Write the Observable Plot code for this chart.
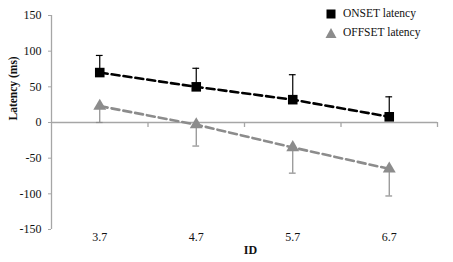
<!DOCTYPE html>
<html>
<head>
<meta charset="utf-8">
<script src="https://cdn.jsdelivr.net/npm/d3@7"></script>
<script src="https://cdn.jsdelivr.net/npm/@observablehq/plot@0.6"></script>
<style>
  html, body { margin: 0; padding: 0; background: #fff; }
  #wrap { position: relative; width: 453px; height: 262px; font-family: "Liberation Serif", "Times New Roman", serif; }
  #legend { position: absolute; left: 325px; top: 4px; font-size: 11.5px; color: #111; line-height: 19px; }
  #legend .row { display: flex; align-items: center; }
  #legend svg { margin-right: 6px; }
</style>
</head>
<body>
<div id="wrap">
  <div id="chart"></div>
  <div id="legend">
    <div class="row"><svg width="12" height="12"><rect x="1.5" y="1.5" width="9" height="9" fill="#000"/></svg>ONSET latency</div>
    <div class="row"><svg width="12" height="12"><path d="M6,1 L11.5,11 L0.5,11 Z" fill="#8c8c8c"/></svg>OFFSET latency</div>
  </div>
</div>
<script>
const ids = [3.7, 4.7, 5.7, 6.7];
const onset = [70, 50, 32, 8];
const onsetErr = [24, 26, 35, 28];
const offset = [23, -3, -35, -65];
const offsetErr = [23, 30, 36, 38];
const yTicks = [-150, -100, -50, 0, 50, 100, 150];

const onData = ids.map((id, i) => ({id, v: onset[i], e: onsetErr[i]}));
const offData = ids.map((id, i) => ({id, v: offset[i], e: offsetErr[i]}));
const xDomain = [ids[0] - 0.5, ids[ids.length - 1] + 0.5];
const capHalf = 0.035;
const grayAxis = "#a6a6a6";
const grayOff = "#8c8c8c";

const chart = Plot.plot({
  width: 453,
  height: 262,
  marginLeft: 51,
  marginRight: 16,
  marginTop: 15,
  marginBottom: 33,
  style: {fontFamily: "'Liberation Serif', 'Times New Roman', serif", fontSize: "12px", color: "#111", background: "#fff"},
  x: {domain: xDomain},
  y: {domain: [-150, 150]},
  marks: [
    Plot.axisY({ticks: yTicks, tickSize: 3, tickPadding: 7, tickFormat: d => String(d), stroke: grayAxis, label: null, fontSize: 12}),
    Plot.axisX({ticks: ids, tickSize: 0, tickPadding: 3, tickFormat: d => d.toFixed(1), label: null, fontSize: 12}),
    Plot.ruleX([xDomain[0]], {y1: -150, y2: 150, stroke: grayAxis, strokeWidth: 1.3}),
    Plot.ruleY([0], {stroke: grayAxis, strokeWidth: 1.3}),
    Plot.ruleX(ids, {x: d => d + 0.5, y1: 0, y2: -7, stroke: grayAxis, strokeWidth: 1.3}),
    // onset error bars (up)
    Plot.ruleX(onData, {x: "id", y1: "v", y2: d => d.v + d.e, stroke: "#000", strokeWidth: 1.2}),
    Plot.ruleY(onData, {y: d => d.v + d.e, x1: d => d.id - capHalf, x2: d => d.id + capHalf, stroke: "#000", strokeWidth: 1.2}),
    // offset error bars (down)
    Plot.ruleX(offData, {x: "id", y1: "v", y2: d => d.v - d.e, stroke: grayOff, strokeWidth: 1.2}),
    Plot.ruleY(offData, {y: d => d.v - d.e, x1: d => d.id - capHalf, x2: d => d.id + capHalf, stroke: grayOff, strokeWidth: 1.2}),
    Plot.line(onData, {x: "id", y: "v", stroke: "#000", strokeWidth: 2.6, strokeDasharray: "8,4"}),
    Plot.line(offData, {x: "id", y: "v", stroke: grayOff, strokeWidth: 2.6, strokeDasharray: "8,4"}),
    Plot.dot(onData, {x: "id", y: "v", symbol: "square", r: 5.4, fill: "#000", stroke: null}),
    Plot.dot(offData, {x: "id", y: "v", symbol: "triangle", r: 4.8, fill: grayOff, stroke: null}),
    Plot.text(["ID"], {frameAnchor: "bottom", dx: 6, dy: 24, fontWeight: "bold", fontSize: 12}),
    Plot.text(["Latency (ms)"], {frameAnchor: "left", dx: -38, dy: -2, rotate: -90, fontWeight: "bold", fontSize: 11.5})
  ]
});
document.getElementById("chart").appendChild(chart);
</script>
</body>
</html>
